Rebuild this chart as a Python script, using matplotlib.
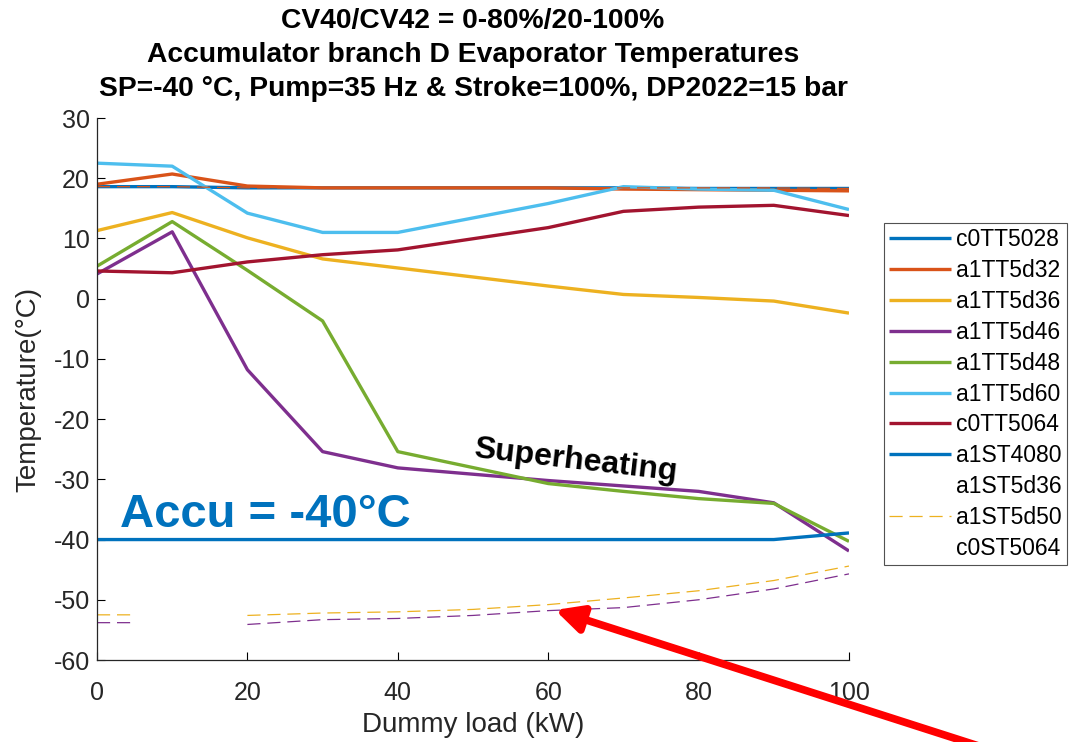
import numpy as np
import matplotlib
matplotlib.use("Agg")
import matplotlib.pyplot as plt
from matplotlib.lines import Line2D

plt.rcParams['font.family'] = ['Liberation Sans', 'DejaVu Sans']
plt.rcParams['axes.unicode_minus'] = False

# Dummy load steps (kW)
load = [0, 10, 20, 30, 40, 60, 70, 80, 90, 100]

c0TT5028 = [18.6, 18.6, 18.4, 18.4, 18.4, 18.4, 18.4, 18.3, 18.3, 18.3]
a1TT5d32 = [19.0, 20.7, 18.7, 18.4, 18.4, 18.4, 18.2, 18.1, 18.0, 17.9]
a1TT5d36 = [11.3, 14.3, 10.1, 6.6, 5.1, 2.1, 0.7, 0.2, -0.4, -2.4]
a1TT5d46 = [4.1, 11.1, -11.8, -25.4, -28.1, -30.2, -31.1, -32.0, -33.9, -41.9]
a1TT5d48 = [5.4, 12.8, 4.7, -3.7, -25.4, -30.7, -32.0, -33.2, -34.0, -40.3]
a1TT5d60 = [22.5, 22.0, 14.2, 11.0, 11.0, 15.8, 18.6, 18.2, 18.0, 14.8]
c0TT5064 = [4.6, 4.3, 6.1, 7.3, 8.1, 11.8, 14.5, 15.2, 15.5, 13.8]
a1ST4080 = [-40.0, -40.0, -40.0, -40.0, -40.0, -40.0, -40.0, -40.0, -40.0, -38.9]

# Saturation temperatures logged on a finer load grid (gap = no data)
load_s = [0, 5, 10, 20, 30, 40, 50, 60, 70, 80, 90, 100]
a1ST5d36 = [18.6, 18.6, 18.6, 18.4, 18.4, 18.4, 18.4, 18.4, 18.4, 18.4, 18.4, 18.3]
a1ST5d50 = [-52.5, -52.5, np.nan, -52.6, -52.2, -52.0, -51.6, -50.8, -49.7, -48.5, -46.8, -44.4]
c0ST5064 = [-53.8, -53.8, np.nan, -54.1, -53.3, -53.1, -52.6, -51.8, -51.3, -50.0, -48.2, -45.7]

blue, orange, yellow, purple = '#0072BD', '#D95319', '#EDB120', '#7E2F8E'
green, cyan, wine = '#77AC30', '#4DBEEE', '#A2142F'

fig = plt.figure(figsize=(10.71, 7.42), dpi=100)
ax = fig.add_axes([97 / 1071, 1 - 660 / 742, (849 - 97) / 1071, (660 - 118) / 742])

lw = 2.4
solid = [
    ('c0TT5028', c0TT5028, blue),
    ('a1TT5d32', a1TT5d32, orange),
    ('a1TT5d36', a1TT5d36, yellow),
    ('a1TT5d46', a1TT5d46, purple),
    ('a1TT5d48', a1TT5d48, green),
    ('a1TT5d60', a1TT5d60, cyan),
    ('c0TT5064', c0TT5064, wine),
    ('a1ST4080', a1ST4080, blue),
]
handles = []
for name, vals, col in solid:
    h, = ax.plot(load, vals, color=col, lw=lw, solid_capstyle='butt', label=name)
    handles.append(h)

dash = (0, (10.5, 5.5))
ax.plot(load_s, a1ST5d36, color=orange, lw=0.9, ls=dash)
ax.plot(load_s, a1ST5d50, color=yellow, lw=0.9, ls=dash)
ax.plot(load_s, c0ST5064, color=purple, lw=0.9, ls=dash)

handles.append(Line2D([], [], color='none', label='a1ST5d36'))
handles.append(Line2D([], [], color=yellow, lw=0.9, ls=dash, label='a1ST5d50'))
handles.append(Line2D([], [], color='none', label='c0ST5064'))

ax.set_xlim(0, 100)
ax.set_ylim(-60, 30)
ax.set_xticks(np.arange(0, 101, 20))
ax.set_yticks(np.arange(-60, 31, 10))
ax.tick_params(direction='in', length=6, width=0.8, labelsize=18,
               labelcolor='#262626')
ax.tick_params(axis='x', pad=15)
ax.tick_params(axis='y', pad=5)
for s in ('top', 'right'):
    ax.spines[s].set_visible(False)
for s in ('left', 'bottom'):
    ax.spines[s].set_linewidth(0.9)
    ax.spines[s].set_color('#262626')

ax.set_xlabel('Dummy load (kW)', fontsize=20, color='#262626', labelpad=5)
ax.set_ylabel('Temperature(°C)', fontsize=20, color='#262626', labelpad=9)

fig.text(473 / 1071, 1 - 8 / 742,
         'CV40/CV42 = 0-80%/20-100%\nAccumulator branch D Evaporator Temperatures\n'
         'SP=-40 °C, Pump=35 Hz & Stroke=100%, DP2022=15 bar',
         ha='center', va='top', fontsize=20.3, fontweight='bold', linespacing=1.4)

ax.text(3, -36.0, 'Accu = -40°C', color=blue, fontsize=34, fontweight='bold',
        ha='left', va='center')
ax.text(63.6, -26.9, 'Superheating', color='black', fontsize=23, fontweight='bold',
        ha='center', va='center', rotation=-6.6)

leg = fig.legend(handles=handles, loc='upper left',
                 bbox_to_anchor=(884 / 1071, 1 - 223 / 742), borderaxespad=0,
                 fontsize=16.5, frameon=True, fancybox=False, edgecolor='#262626',
                 handlelength=2.7, handletextpad=0.22, labelspacing=0.345,
                 borderpad=0.22)
leg.get_frame().set_linewidth(0.8)

ax.annotate('', xy=(555, 742 - 610), xycoords='figure pixels',
            xytext=(985, -6), textcoords='figure pixels',
            arrowprops=dict(arrowstyle='-|>,head_length=1.6,head_width=0.8',
                            color='#FF0000', lw=5.5, shrinkA=0, shrinkB=0),
            annotation_clip=False)

fig.savefig('out.png', dpi=100)
